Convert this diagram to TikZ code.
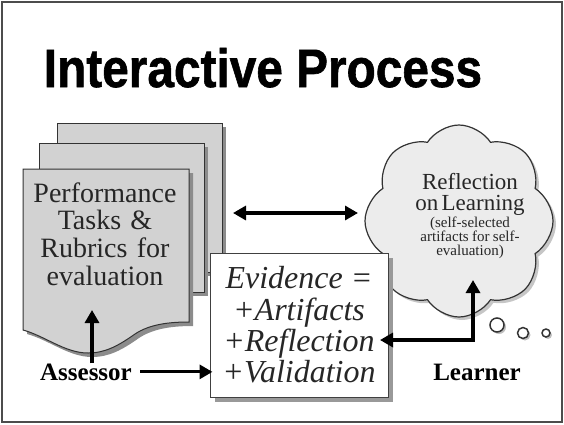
\documentclass[tikz,border=0pt]{standalone}
\usepackage{fontspec}
\setmainfont{Liberation Serif}
\newfontfamily\titlefont[FakeBold=1.2]{Liberation Sans Bold}
\usetikzlibrary{arrows.meta,shapes.symbols,shadows}

\begin{document}
\begin{tikzpicture}[x=1pt,y=-1pt,
pg/.style={draw=gray!40!black,fill=gray!35,line width=1pt,drop shadow={shadow xshift=4pt,shadow yshift=-4pt,fill=gray!90,opacity=1}},
ttl/.style={anchor=base,font=\titlefont\fontsize{54}{54}\selectfont,xscale=.885},
lbl/.style={font=\fontsize{25}{25}\selectfont\bfseries,inner sep=0pt,anchor=base},
arr/.style={line width=3.2pt,-{Triangle[length=13pt,width=14pt]}},
arrb/.style={line width=3.2pt,{Triangle[length=13pt,width=14pt]}-{Triangle[length=13pt,width=14pt]}},
bub/.style={draw=gray!40!black,fill=white,line width=1.5pt,drop shadow={shadow xshift=2pt,shadow yshift=-2pt,fill=gray!50,opacity=1}}]
\useasboundingbox(0,0)rectangle(564,424);
\draw[line width=1.5pt,gray!60!black](2,2)rectangle(562,422);
\node[ttl](title)at(263,87){Interactive Process};
\draw[pg](57,123)rectangle(222,272);
\draw[pg](39,143)rectangle(204,292);
\draw[pg](23,169)--(189,169)--(189,322)..controls(170,322)and(150,324)..(135,334)
..controls(118,346)and(105,353)..(88,353)..controls(65,353)and(45,336)..(23,330)--cycle;
\node[align=center,text width=160pt,font=\fontsize{28}{27.7}\selectfont,text=black!85](tasks)at(105,234)
{Performance\\Tasks \&\\Rubrics for\\evaluation};
\node[cloud,cloud puffs=8,cloud puff arc=115,aspect=1,minimum width=188pt,minimum height=192pt,
draw=gray!40!black,fill=gray!15,line width=1.2pt,drop shadow={shadow xshift=3pt,shadow yshift=-3pt,fill=gray!45,opacity=1}](cloud)at(459,221){};
\node[align=center,text width=140pt,text=black!85](refl)at(470,216)
{\fontsize{23}{21}\selectfont Reflection\\on Learning\par
\fontsize{15}{14}\selectfont(self-selected\\artifacts for self-\\evaluation)\par};
\foreach\x/\y/\r in{497/325/7,523/333/5.5,546/333/4}
\draw[bub](\x,\y)circle(\r pt);
\node[draw=gray!50!black,fill=white,line width=1pt,minimum width=178pt,minimum height=144pt,
drop shadow={shadow xshift=5pt,shadow yshift=-5pt,fill=gray!80,opacity=1},
align=center,font=\itshape\fontsize{32}{31.3}\selectfont,text=black!85](evid)at(299,325)
{Evidence =\\+Artifacts\\+Reflection\\+Validation};
\node[lbl](assr)at(86,380){Assessor};
\node[lbl](lrnr)at(477,380){Learner};
\coordinate(T)at(92,310);
\coordinate(L)at(233,213);\coordinate(R)at(358,213);
\coordinate(E)at(380,340);\coordinate(C)at(473,280);
\draw[arr](assr.north-|T)--(T);
\draw[arr]([xshift=8pt]assr.east)--([xshift=3pt]evid.west|-assr.east);
\draw[arrb](L)--(R);
\draw[arrb](E)-|(C);
\end{tikzpicture}
\end{document}
